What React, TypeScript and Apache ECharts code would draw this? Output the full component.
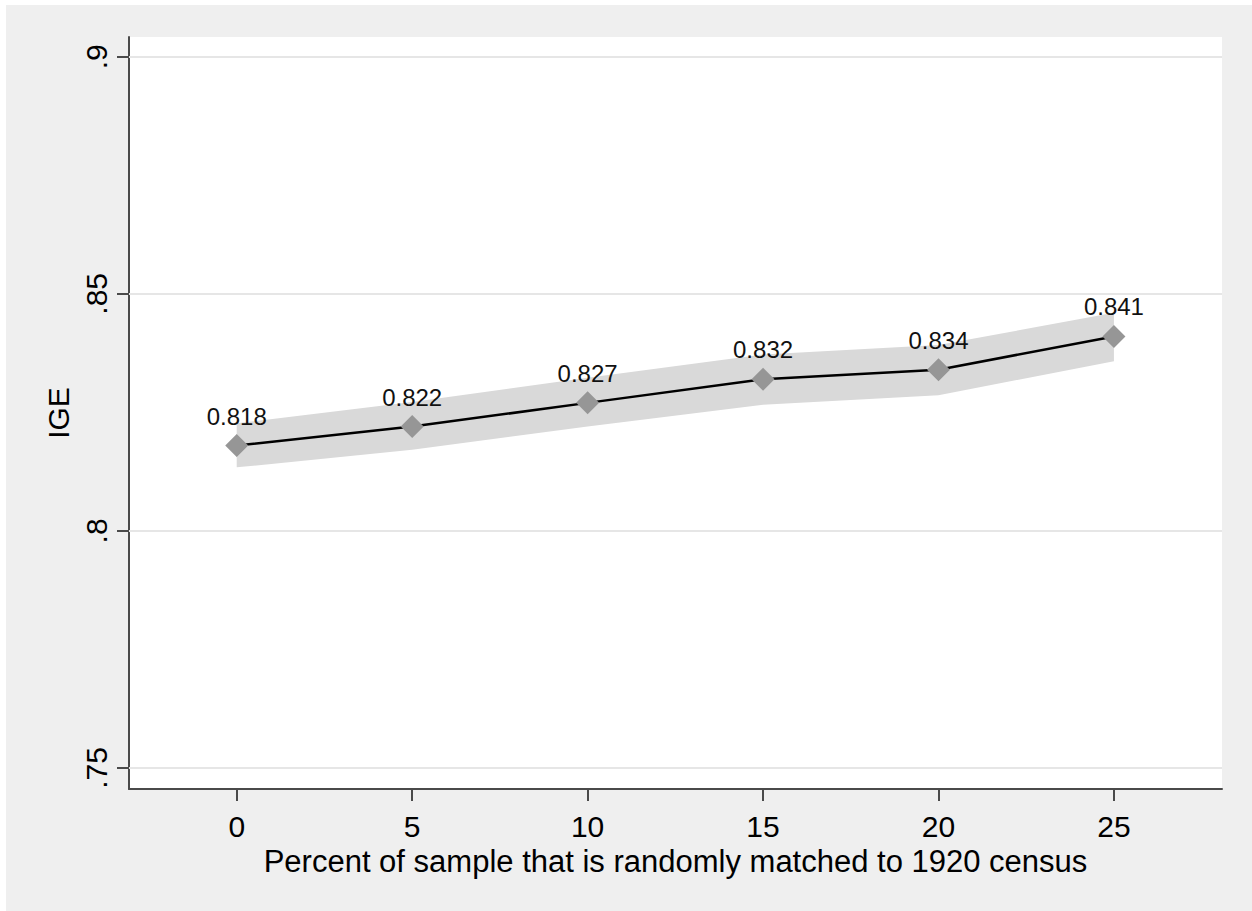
import React, { useEffect, useRef } from "react";
import * as echarts from "echarts";

const xValues = [0, 5, 10, 15, 20, 25];
const igeValues = [0.818, 0.822, 0.827, 0.832, 0.834, 0.841];
const ciLower = [0.8134, 0.8171, 0.822, 0.8266, 0.8286, 0.8358];
const ciUpper = [0.8227, 0.8272, 0.8323, 0.8372, 0.8392, 0.846];
const xTicks = [0, 5, 10, 15, 20, 25];
const yTicks = [0.75, 0.8, 0.85, 0.9];
const yTickLabels = [".75", ".8", ".85", ".9"];
const xTitle = "Percent of sample that is randomly matched to 1920 census";
const yTitle = "IGE";

const FONT = "'Liberation Sans', Arial, sans-serif";
const AXIS_COLOR = "#4a4a4a";

export default function App() {
  const ref = useRef<HTMLDivElement>(null);
  useEffect(() => {
    document.body.style.margin = "0";
    if (!ref.current) return;
    const chart = echarts.init(ref.current, undefined, { renderer: "svg" });
    const mainData = xValues.map((x, i) => [x, igeValues[i]]);
    const bandData = xValues.map((x, i) => [x, ciLower[i], ciUpper[i]]);
    chart.setOption({
      animation: false,
      backgroundColor: "#efefef",
      textStyle: { fontFamily: FONT },
      grid: {
        left: 123,
        top: 32,
        right: 30,
        bottom: 122,
        show: true,
        backgroundColor: "#ffffff",
        borderWidth: 0,
      },
      xAxis: {
        type: "value",
        min: -3.07,
        max: 28.08,
        name: xTitle,
        nameLocation: "middle",
        nameGap: 48,
        nameTextStyle: { fontSize: 31, color: "#000", fontFamily: FONT },
        axisLine: { show: true, onZero: false, lineStyle: { color: AXIS_COLOR, width: 2 } },
        axisTick: { show: true, length: 12, customValues: xTicks, lineStyle: { color: AXIS_COLOR, width: 2 } },
        axisLabel: { customValues: xTicks, fontSize: 30, color: "#000", margin: 22, fontFamily: FONT },
        splitLine: { show: false },
      },
      yAxis: {
        type: "value",
        min: 0.745572,
        max: 0.904154,
        name: yTitle,
        nameLocation: "middle",
        nameGap: 52,
        nameRotate: 90,
        nameTextStyle: { fontSize: 30, color: "#000", fontFamily: FONT },
        axisLine: { show: true, onZero: false, lineStyle: { color: AXIS_COLOR, width: 2 } },
        axisTick: { show: true, length: 12, customValues: yTicks, lineStyle: { color: AXIS_COLOR, width: 2 } },
        axisLabel: {
          customValues: yTicks,
          rotate: 90,
          fontSize: 30,
          color: "#000",
          margin: 18,
          fontFamily: FONT,
          formatter: (v: number) => {
            const idx = yTicks.findIndex((t) => Math.abs(t - v) < 1e-9);
            return idx >= 0 ? yTickLabels[idx] : "";
          },
        },
        splitLine: { show: false },
      },
      series: [
        {
          name: "grid",
          type: "line",
          data: [],
          silent: true,
          z: 1,
          markLine: {
            silent: true,
            symbol: "none",
            label: { show: false },
            lineStyle: { color: "#e6e6e6", width: 2, type: "solid" },
            data: yTicks.map((t) => ({ yAxis: t })),
          },
        },
        {
          name: "band",
          type: "custom",
          data: bandData,
          silent: true,
          z: 2,
          encode: { x: 0, y: [1, 2] },
          renderItem: (params: any, api: any) => {
            if (params.dataIndex !== 0) return null;
            const upper = bandData.map((d) => api.coord([d[0], d[2]]));
            const lower = bandData.map((d) => api.coord([d[0], d[1]])).reverse();
            return {
              type: "polygon",
              shape: { points: upper.concat(lower) },
              style: { fill: "#d9d9d9", stroke: "none" },
            };
          },
        },
        {
          name: "IGE",
          type: "line",
          data: mainData,
          symbol: "diamond",
          symbolSize: 23,
          itemStyle: { color: "#969696" },
          lineStyle: { color: "#000000", width: 2.5 },
          z: 3,
          label: {
            show: true,
            position: "top",
            distance: 6,
            fontSize: 24,
            color: "#111",
            fontFamily: FONT,
            formatter: (p: any) => Number(p.value[1]).toFixed(3),
          },
        },
      ],
    });
    return () => chart.dispose();
  }, []);
  return (
    <div style={{ width: 1252, height: 911, background: "#ffffff", position: "relative" }}>
      <div ref={ref} style={{ position: "absolute", left: 6, top: 5, width: 1246, height: 906 }} />
    </div>
  );
}
